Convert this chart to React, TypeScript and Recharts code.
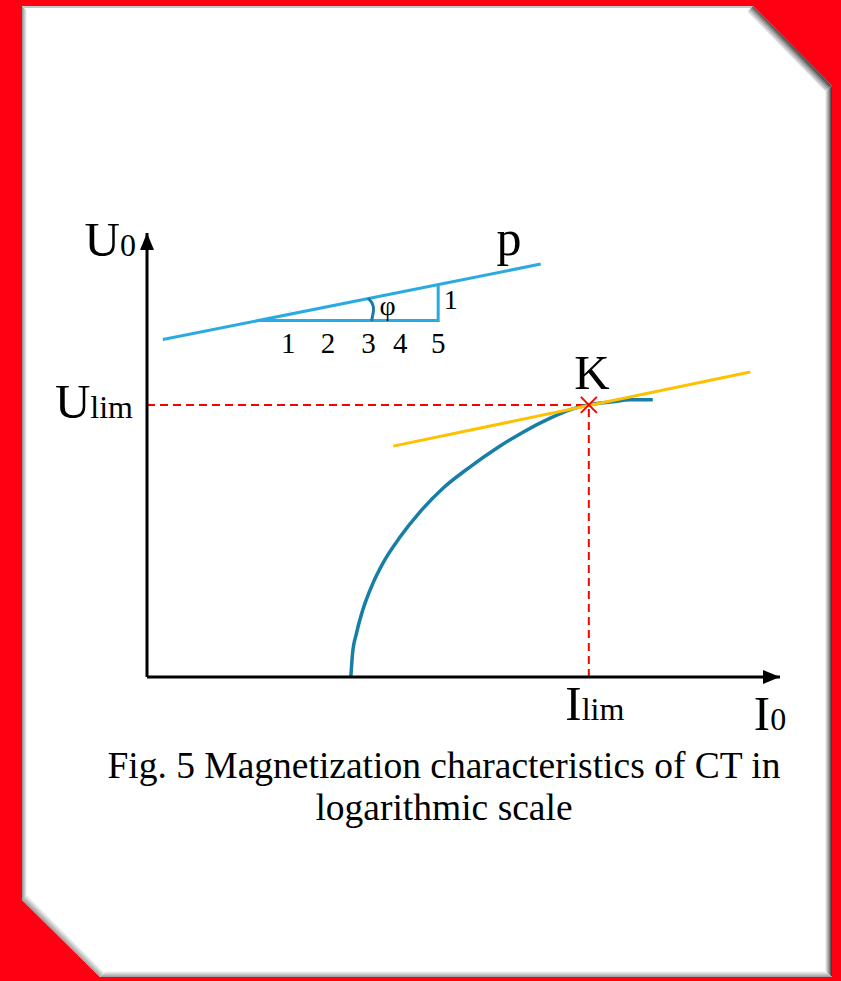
import React from 'react';
import { ComposedChart, Line, Scatter, XAxis, YAxis } from 'recharts';

const SERIF = "'Liberation Serif', 'Times New Roman', serif";

// magnetization curve U0(I0), both axes in log units
const CURVE_I = [3.22, 3.245, 3.31, 3.41, 3.57, 3.73, 4.0, 4.31, 4.68, 5.1, 5.53, 5.94, 6.37, 6.68, 6.97, 7.36, 7.63, 7.99];
const CURVE_U = [0, 0.35, 0.69, 1.06, 1.48, 1.8, 2.21, 2.6, 2.98, 3.31, 3.61, 3.86, 4.08, 4.21, 4.29, 4.34, 4.37, 4.37];

// knee point K (I_lim, U_lim)
const KNEE_I = 6.98;
const KNEE_U = 4.29;

// tangent through the knee
const TANGENT_I = [3.89, 9.53];
const TANGENT_U = [3.64, 4.81];

// reference line p with slope 1:5
const P_I = [0.25, 6.22];
const P_U = [5.32, 6.51];

// slope triangle under p
const TRI_I = [1.74, 4.6, 4.6];
const TRI_U = [5.62, 5.62, 6.19];

// angle mark phi
const ARC_I = [3.547, 3.578, 3.555, 3.491];
const ARC_U = [5.612, 5.786, 5.896, 5.976];

// divisions along the triangle base
const SCALE_LABELS = ['1', '2', '3', '4', '5'];
const SCALE_I = [2.23, 2.86, 3.5, 4.0, 4.6];

// free text marks
const NOTE_TEXT = ['p', 'φ', '1'];
const NOTE_I = [5.72, 3.8, 4.8];
const NOTE_U = [6.66, 5.7, 5.8];

const X_MAX = 10;
const Y_MAX = 7;

const pts = (xs: number[], ys: number[]) => xs.map((x, i) => ({ x, y: ys[i] }));

const curve = pts(CURVE_I, CURVE_U);
const tangent = pts(TANGENT_I, TANGENT_U);
const pLine = pts(P_I, P_U);
const triangle = pts(TRI_I, TRI_U);
const arc = pts(ARC_I, ARC_U);
const hDash = [{ x: 0, y: KNEE_U }, { x: KNEE_I, y: KNEE_U }];
const vDash = [{ x: KNEE_I, y: 0 }, { x: KNEE_I, y: KNEE_U }];
const knee = [{ x: KNEE_I, y: KNEE_U }];
const scaleMarks = SCALE_I.map((x, i) => ({ x, y: TRI_U[0], label: SCALE_LABELS[i] }));
const notes = NOTE_I.map((x, i) => ({ x, y: NOTE_U[i], label: NOTE_TEXT[i] }));
const arrows = [
  { x: 0, y: Y_MAX, dir: 'up' },
  { x: X_MAX, y: 0, dir: 'right' },
];
const axisTags = [
  { x: 0, y: Y_MAX, main: 'U', sub: '0' },
  { x: 0, y: KNEE_U, main: 'U', sub: 'lim' },
  { x: KNEE_I, y: 0, main: 'I', sub: 'lim' },
  { x: X_MAX, y: 0, main: 'I', sub: '0' },
];
const TAG_PLACE = [
  { dx: -11, dy: 23, anchor: 'end' },
  { dx: -14, dy: 13, anchor: 'end' },
  { dx: 6, dy: 43, anchor: 'middle' },
  { dx: -10, dy: 53, anchor: 'middle' },
];

const Arrow = (props: any) => {
  const { cx, cy, payload } = props;
  const d =
    payload.dir === 'up'
      ? `M${cx},${cy} L${cx - 7},${cy + 17} L${cx + 7},${cy + 17} Z`
      : `M${cx},${cy} L${cx - 17},${cy - 7} L${cx - 17},${cy + 7} Z`;
  return <path d={d} fill="#000" />;
};

const AxisTag = (props: any) => {
  const { cx, cy, payload, index } = props;
  const p = TAG_PLACE[index];
  return (
    <text x={cx + p.dx} y={cy + p.dy} textAnchor={p.anchor} fontFamily={SERIF} fill="#000">
      <tspan fontSize={49}>{payload.main}</tspan>
      <tspan fontSize={32}>{payload.sub}</tspan>
    </text>
  );
};

const KneeMark = (props: any) => {
  const { cx, cy } = props;
  return (
    <g>
      <path d={`M${cx - 8},${cy - 8} L${cx + 8},${cy + 8} M${cx - 8},${cy + 8} L${cx + 8},${cy - 8}`} stroke="#ff0000" strokeWidth={2} />
      <text x={cx + 3} y={cy - 16} textAnchor="middle" fontSize={49} fontFamily={SERIF} fill="#000">K</text>
    </g>
  );
};

const ScaleMark = (props: any) => (
  <text x={props.cx} y={props.cy + 32} textAnchor="middle" fontSize={29} fontFamily={SERIF} fill="#000">
    {props.payload.label}
  </text>
);

const Note = (props: any) => (
  <text
    x={props.cx}
    y={props.cy}
    textAnchor="middle"
    fontSize={props.payload.label === 'p' ? 50 : 28}
    fontFamily={SERIF}
    fill="#000"
  >
    {props.payload.label}
  </text>
);

// bevelled white card on the red backdrop
const Frame = () => (
  <svg width={841} height={981} style={{ position: 'absolute', left: 0, top: 0 }}>
    <defs>
      <linearGradient id="edgeLeft" gradientUnits="userSpaceOnUse" x1={22} y1={0} x2={27} y2={0}>
        <stop offset="0" stopColor="#8e8e8e" />
        <stop offset="1" stopColor="#ffffff" />
      </linearGradient>
      <linearGradient id="edgeDiagTop" gradientUnits="userSpaceOnUse" x1={792} y1={46} x2={785.5} y2={52.3}>
        <stop offset="0" stopColor="#4a4a4a" />
        <stop offset="0.45" stopColor="#a8a8a8" />
        <stop offset="1" stopColor="#ffffff" />
      </linearGradient>
      <linearGradient id="edgeRight" gradientUnits="userSpaceOnUse" x1={825} y1={0} x2={832} y2={0}>
        <stop offset="0" stopColor="#ffffff" />
        <stop offset="0.5" stopColor="#a0a0a0" />
        <stop offset="1" stopColor="#2e2e2e" />
      </linearGradient>
      <linearGradient id="edgeDiagBottom" gradientUnits="userSpaceOnUse" x1={61} y1={938.5} x2={66} y2={933.5}>
        <stop offset="0" stopColor="#9a9a9a" />
        <stop offset="1" stopColor="#ffffff" />
      </linearGradient>
      <linearGradient id="edgeBottom" gradientUnits="userSpaceOnUse" x1={0} y1={971} x2={0} y2={977}>
        <stop offset="0" stopColor="#ffffff" />
        <stop offset="1" stopColor="#9a9a9a" />
      </linearGradient>
    </defs>
    <rect width={841} height={981} fill="#ff0012" />
    <polygon points="22,6 753,6 832,86 832,977 100,977 22,900" fill="#ffffff" />
    <polygon points="22,6 27,11 27,897 22,900" fill="url(#edgeLeft)" />
    <polygon points="22,6 753,6 751,8 24,8" fill="#c8c8c8" />
    <polygon points="753,6 832,86 825,91 747,12" fill="url(#edgeDiagTop)" />
    <polygon points="832,86 832,977 825,971 825,91" fill="url(#edgeRight)" />
    <polygon points="22,900 100,977 106,971 27,894" fill="url(#edgeDiagBottom)" />
    <polygon points="100,977 832,977 825,971 106,971" fill="url(#edgeBottom)" />
  </svg>
);

export default function App() {
  return (
    <div style={{ position: 'absolute', left: 0, top: 0, width: 841, height: 981, overflow: 'hidden' }}>
      <Frame />
      <div style={{ position: 'absolute', left: 0, top: 0 }}>
        <ComposedChart width={841} height={981} margin={{ top: 233, right: 61, bottom: 303, left: 146 }}>
          <XAxis
            type="number"
            dataKey="x"
            domain={[0, X_MAX]}
            tickCount={11}
            height={1}
            tick={false}
            tickLine={false}
            axisLine={{ stroke: '#000', strokeWidth: 3 }}
          />
          <YAxis
            type="number"
            dataKey="y"
            domain={[0, Y_MAX]}
            tickCount={8}
            width={1}
            tick={false}
            tickLine={false}
            axisLine={{ stroke: '#000', strokeWidth: 3 }}
          />
          <Line data={hDash} dataKey="y" type="linear" stroke="#ff0000" strokeWidth={2} strokeDasharray="8 5" dot={false} isAnimationActive={false} />
          <Line data={vDash} dataKey="y" type="linear" stroke="#ff0000" strokeWidth={2} strokeDasharray="8 5" dot={false} isAnimationActive={false} />
          <Line data={pLine} dataKey="y" type="linear" stroke="#29abe2" strokeWidth={3} dot={false} isAnimationActive={false} />
          <Line data={triangle} dataKey="y" type="linear" stroke="#29abe2" strokeWidth={3} dot={false} isAnimationActive={false} />
          <Line data={arc} dataKey="y" type="natural" stroke="#1a7aa6" strokeWidth={3} dot={false} isAnimationActive={false} />
          <Line data={curve} dataKey="y" type="monotone" stroke="#177fa6" strokeWidth={3.5} dot={false} isAnimationActive={false} />
          <Line data={tangent} dataKey="y" type="linear" stroke="#ffc000" strokeWidth={3} dot={false} isAnimationActive={false} />
          <Scatter data={knee} shape={KneeMark} isAnimationActive={false} />
          <Scatter data={scaleMarks} shape={ScaleMark} isAnimationActive={false} />
          <Scatter data={notes} shape={Note} isAnimationActive={false} />
          <Scatter data={arrows} shape={Arrow} isAnimationActive={false} />
          <Scatter data={axisTags} shape={AxisTag} isAnimationActive={false} />
        </ComposedChart>
      </div>
      <div
        style={{
          position: 'absolute',
          left: 94,
          top: 745,
          width: 700,
          textAlign: 'center',
          fontFamily: SERIF,
          fontSize: 37.5,
          lineHeight: '42px',
          color: '#000',
        }}
      >
        Fig. 5 Magnetization characteristics of CT in
        <br />
        logarithmic scale
      </div>
    </div>
  );
}
